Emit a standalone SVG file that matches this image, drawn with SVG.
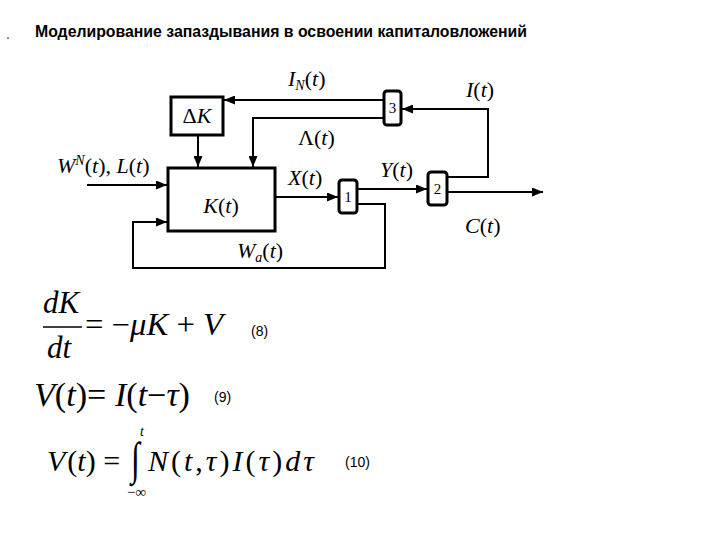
<svg xmlns="http://www.w3.org/2000/svg" width="720" height="540" viewBox="0 0 720 540">
<style>
.title{font-family:"Liberation Sans",Arial,sans-serif;font-weight:bold;font-size:16px;fill:#000}
.lbl{font-family:"Liberation Serif","Times New Roman",serif;font-style:italic;font-size:22px;fill:#000}
.num{font-family:"Liberation Serif","Times New Roman",serif;font-size:15px;fill:#000}
.eq{font-family:"Liberation Serif","Times New Roman",serif;font-style:italic;fill:#000}
.up{font-style:normal}
.tag{font-family:"Liberation Sans",Arial,sans-serif;font-size:14px;fill:#000}
.box{fill:#fff;stroke:#000;stroke-width:3}
.sm{fill:#fff;stroke:#000;stroke-width:3}
.ln{fill:none;stroke:#000;stroke-width:2}
</style>
<defs>
<marker id="arr" markerUnits="userSpaceOnUse" markerWidth="11" markerHeight="9" refX="11" refY="4.5" orient="auto">
<path d="M0,0 L11,4.5 L0,9 z" fill="#000"/>
</marker>
</defs>
<rect width="720" height="540" fill="#fff"/>
<circle cx="8" cy="38" r="1" fill="#666"/>
<text class="title" x="35" y="37" textLength="492" lengthAdjust="spacingAndGlyphs">Моделирование запаздывания в освоении капиталовложений</text>

<g id="connectors">
<path class="ln" d="M384,100 L224,100" marker-end="url(#arr)"/>
<path class="ln" d="M384,118 L253,118 L253,167" marker-end="url(#arr)"/>
<path class="ln" d="M198,135 L198,167" marker-end="url(#arr)"/>
<path class="ln" d="M87,185 L167,185" marker-end="url(#arr)"/>
<path class="ln" d="M275,197 L338,197" marker-end="url(#arr)"/>
<path class="ln" d="M357,189 L427,189" marker-end="url(#arr)"/>
<path class="ln" d="M357,204 L385,204 L385,268 L133,268 L133,222 L167,222" marker-end="url(#arr)"/>
<path class="ln" d="M447,177 L488,177 L488,109 L402,109" marker-end="url(#arr)"/>
<path class="ln" d="M447,192 L543,192" marker-end="url(#arr)"/>
</g>

<g id="node-dK">
<rect class="box" x="171" y="97" width="52" height="38"/>
<text class="lbl" x="197" y="123" text-anchor="middle" font-size="20"><tspan class="up">Δ</tspan>K</text>
</g>
<g id="node-K">
<rect class="box" x="168" y="168" width="107" height="63"/>
<text class="lbl" x="221" y="213" text-anchor="middle" font-size="24">K<tspan class="up">(</tspan>t<tspan class="up">)</tspan></text>
</g>
<g id="node-1">
<rect class="sm" x="339" y="180" width="18" height="33" rx="3"/>
<text class="num" x="348" y="202" text-anchor="middle">1</text>
</g>
<g id="node-2">
<rect class="sm" x="428" y="172" width="19" height="33" rx="3"/>
<text class="num" x="437.5" y="194" text-anchor="middle">2</text>
</g>
<g id="node-3">
<rect class="sm" x="384" y="91" width="17" height="34" rx="3"/>
<text class="num" x="392.5" y="113" text-anchor="middle">3</text>
</g>

<g id="labels">
<text class="lbl" x="288" y="86">I<tspan font-size="14" dy="4">N</tspan><tspan class="up" dy="-4">(</tspan>t<tspan class="up">)</tspan></text>
<text class="lbl" x="298" y="145"><tspan class="up">Λ(</tspan>t<tspan class="up">)</tspan></text>
<text class="lbl" x="288" y="185">X<tspan class="up">(</tspan>t<tspan class="up">)</tspan></text>
<text class="lbl" x="380" y="177">Y<tspan class="up">(</tspan>t<tspan class="up">)</tspan></text>
<text class="lbl" x="466" y="97">I<tspan class="up">(</tspan>t<tspan class="up">)</tspan></text>
<text class="lbl" x="465" y="233">C<tspan class="up">(</tspan>t<tspan class="up">)</tspan></text>
<text class="lbl" x="57" y="173">W<tspan font-size="14" dy="-8">N</tspan><tspan class="up" dy="8">(</tspan>t<tspan class="up">), </tspan>L<tspan class="up">(</tspan>t<tspan class="up">)</tspan></text>
<text class="lbl" x="237" y="258">W<tspan font-size="14" dy="4">a</tspan><tspan class="up" dy="-4">(</tspan>t<tspan class="up">)</tspan></text>
</g>

<g id="equations">
<text class="eq" x="43" y="313" font-size="31">dK</text>
<line x1="43" y1="327" x2="82" y2="327" stroke="#000" stroke-width="1.6"/>
<text class="eq" x="47" y="358" font-size="31">dt</text>
<text class="eq" x="85" y="335" font-size="31" textLength="138" lengthAdjust="spacingAndGlyphs"><tspan class="up">= −</tspan>μK <tspan class="up">+ </tspan>V</text>
<text class="tag" x="251" y="336">(8)</text>

<text class="eq" x="34" y="406" font-size="33" textLength="156" lengthAdjust="spacingAndGlyphs">V<tspan class="up">(</tspan>t<tspan class="up">)= </tspan>I<tspan class="up">(</tspan>t<tspan class="up">−</tspan>τ<tspan class="up">)</tspan></text>
<text class="tag" x="214" y="402">(9)</text>

<text class="eq" x="47" y="471" font-size="30">V<tspan class="up" dx="2">(</tspan>t<tspan class="up">) =</tspan></text>
<text class="eq up" x="131" y="474" font-size="46" transform="translate(131 474) scale(0.7 1) translate(-131 -474)">∫</text>
<text class="eq" x="140" y="436" font-size="14">t</text>
<text class="eq up" x="127" y="497" font-size="15">−∞</text>
<text class="eq" x="148" y="471" font-size="30" letter-spacing="3">N<tspan class="up">(</tspan>t<tspan class="up">,</tspan>τ<tspan class="up">)</tspan>I<tspan class="up">(</tspan>τ<tspan class="up">)</tspan>dτ</text>
<text class="tag" x="345" y="467">(10)</text>
</g>
</svg>
